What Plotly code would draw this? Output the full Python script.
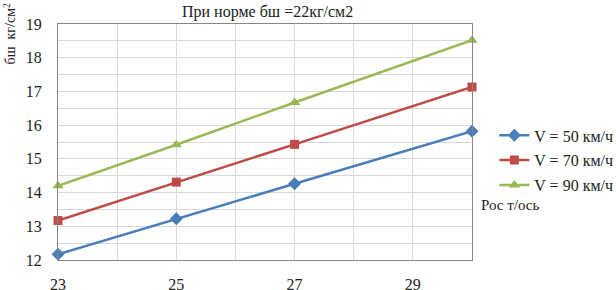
import plotly.graph_objects as go

x_vals = [23, 25, 27, 30]
v50 = [12.17, 13.22, 14.26, 15.82]
v70 = [13.17, 14.31, 15.43, 17.13]
v90 = [14.2, 15.42, 16.67, 18.52]
names = ["V = 50 км/ч", "V = 70 км/ч", "V = 90 км/ч"]
colors = ["#4a7ebb", "#be4b48", "#98b954"]
symbols = ["diamond", "square", "triangle-up"]
title_text = "При норме бш =22кг/см2"
ytitle = "бш  кг/см<sup>2</sup>"
xtitle = "Рос т/ось"

FONT = "Liberation Serif"
L, R, T, B = 58, 144, 24, 30

fig = go.Figure()
for i, ys in enumerate([v50, v70, v90]):
    fig.add_trace(go.Scatter(
        x=x_vals, y=ys, mode="lines+markers", name=names[i],
        legendgroup=str(i),
        line=dict(color=colors[i], width=2.5),
        marker=dict(symbol=symbols[i], size=10 if i != 1 else 9, color=colors[i]),
        cliponaxis=False,
    ))

fig.update_layout(
    width=616, height=290,
    margin=dict(l=L, r=R, t=T, b=B, autoexpand=False),
    paper_bgcolor="white", plot_bgcolor="white",
    font=dict(family=FONT, size=15, color="#222"),
    showlegend=True,
    legend=dict(x=1.054, y=0.6, xanchor="left", yanchor="top",
                font=dict(family=FONT, size=16, color="#222"),
                tracegroupgap=1, bgcolor="rgba(0,0,0,0)", itemwidth=30),
    xaxis=dict(range=[23, 30], tick0=23, dtick=2, showgrid=True, automargin=False,
               gridcolor="#d9d9d9", gridwidth=1,
               minor=dict(dtick=1, tick0=23, showgrid=True, gridcolor="#d9d9d9"),
               showline=True, linecolor="#868686", linewidth=1, mirror=True,
               ticks="", ticklabelstandoff=10, zeroline=False,
               tickfont=dict(family=FONT, size=16, color="#222")),
    yaxis=dict(range=[12, 19], tick0=12, dtick=1, showgrid=True, automargin=False,
               gridcolor="#d9d9d9", gridwidth=1,
               minor=dict(dtick=0.5, showgrid=True, gridcolor="#d9d9d9"),
               showline=True, linecolor="#868686", linewidth=1, mirror=True,
               ticks="", ticklabelstandoff=12, zeroline=False,
               tickfont=dict(family=FONT, size=16, color="#222")),
    annotations=[
        dict(text=title_text, xref="paper", yref="paper", x=0.505, y=1.05,
             xanchor="center", yanchor="middle", showarrow=False,
             font=dict(family=FONT, size=16, color="#222")),
        dict(text=ytitle, xref="paper", yref="paper", x=-0.116, y=0.96,
             xanchor="center", yanchor="middle", textangle=-90, showarrow=False,
             font=dict(family=FONT, size=14, color="#222")),
        dict(text=xtitle, xref="paper", yref="paper", x=1.017, y=0.233,
             xanchor="left", yanchor="middle", showarrow=False,
             font=dict(family=FONT, size=15, color="#222")),
    ],
)

fig.write_html("out.html")
